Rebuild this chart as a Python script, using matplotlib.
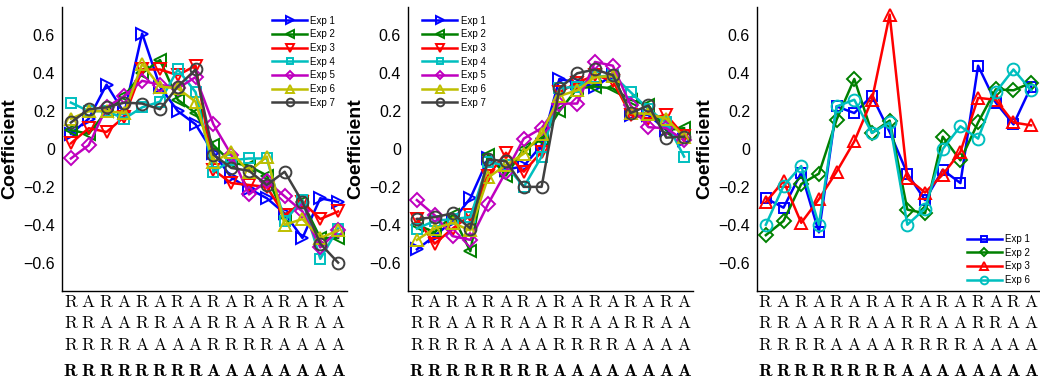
"""
Regression coefficients per condition for three experiment groups.
"""

import matplotlib
matplotlib.use("Agg")
import matplotlib.pyplot as plt
import matplotlib.transforms as mtransforms

plt.rcParams["font.family"] = ["Liberation Sans", "DejaVu Sans"]
plt.rcParams["mathtext.fontset"] = "cm"

# --- condition labels (4 rows under each of the 16 positions) ---
row1 = list("RARARARARARARARA")
row2 = list("RRAARRAARRAARRAA")
row3 = list("RRRRAAAARRRRAAAA")
row4 = list("RRRRRRRRAAAAAAAA")
positions = list(range(1, 17))

# --- panel 1 ---
p1_exp1 = [0.08, 0.16, 0.34, 0.19, 0.61, 0.33, 0.20, 0.13, -0.02, -0.15, -0.21, -0.26, -0.34, -0.47, -0.26, -0.28]
p1_exp2 = [0.10, 0.08, 0.20, 0.28, 0.40, 0.47, 0.26, 0.19, 0.02, -0.07, -0.09, -0.14, -0.36, -0.28, -0.47, -0.47]
p1_exp3 = [0.03, 0.11, 0.09, 0.17, 0.42, 0.42, 0.39, 0.44, -0.11, -0.18, -0.19, -0.20, -0.35, -0.28, -0.37, -0.33]
p1_exp4 = [0.245, 0.20, 0.20, 0.16, 0.22, 0.25, 0.42, 0.30, -0.12, -0.06, -0.05, -0.05, -0.38, -0.27, -0.58, -0.42]
p1_exp5 = [-0.05, 0.02, 0.22, 0.28, 0.36, 0.34, 0.32, 0.38, 0.13, -0.03, -0.24, -0.17, -0.25, -0.33, -0.52, -0.43]
p1_exp6 = [0.16, 0.20, 0.20, 0.19, 0.45, 0.33, 0.32, 0.25, -0.07, -0.015, -0.12, -0.04, -0.40, -0.37, -0.47, -0.43]
p1_exp7 = [0.14, 0.21, 0.22, 0.245, 0.24, 0.21, 0.33, 0.42, -0.03, -0.10, -0.115, -0.19, -0.12, -0.28, -0.50, -0.60]

# --- panel 2 ---
p2_exp1 = [-0.53, -0.46, -0.38, -0.26, -0.05, -0.11, -0.09, 0.02, 0.37, 0.35, 0.33, 0.39, 0.18, 0.18, 0.10, 0.05]
p2_exp2 = [-0.40, -0.44, -0.35, -0.54, -0.03, -0.14, 0.00, 0.05, 0.20, 0.32, 0.33, 0.32, 0.26, 0.23, 0.10, 0.11]
p2_exp3 = [-0.37, -0.50, -0.42, -0.35, -0.14, -0.02, -0.12, -0.015, 0.30, 0.35, 0.39, 0.36, 0.18, 0.16, 0.18, 0.07]
p2_exp4 = [-0.42, -0.38, -0.37, -0.36, -0.07, -0.085, -0.20, -0.04, 0.32, 0.33, 0.38, 0.39, 0.30, 0.21, 0.14, -0.04]
p2_exp5 = [-0.27, -0.35, -0.46, -0.48, -0.29, -0.12, 0.055, 0.11, 0.24, 0.24, 0.46, 0.44, 0.23, 0.115, 0.11, 0.045]
p2_exp6 = [-0.48, -0.42, -0.39, -0.43, -0.15, -0.085, -0.025, 0.08, 0.28, 0.31, 0.38, 0.385, 0.19, 0.185, 0.16, 0.065]
p2_exp7 = [-0.37, -0.36, -0.34, -0.42, -0.055, -0.065, -0.20, -0.20, 0.32, 0.40, 0.42, 0.39, 0.19, 0.23, 0.06, 0.065]

# --- panel 3 ---
p3_exp1 = [-0.26, -0.31, -0.125, -0.44, 0.225, 0.19, 0.28, 0.09, -0.13, -0.27, -0.11, -0.18, 0.44, 0.245, 0.13, 0.33]
p3_exp2 = [-0.455, -0.38, -0.185, -0.13, 0.155, 0.37, 0.085, 0.15, -0.32, -0.34, 0.065, -0.06, 0.14, 0.315, 0.31, 0.35]
p3_exp3 = [-0.28, -0.17, -0.39, -0.265, -0.12, 0.04, 0.26, 0.71, -0.155, -0.23, -0.135, -0.015, 0.27, 0.26, 0.14, 0.125]
p3_exp6 = [-0.40, -0.195, -0.09, -0.40, 0.225, 0.26, 0.085, 0.14, -0.40, -0.315, 0.00, 0.12, 0.055, 0.30, 0.42, 0.31]

BLUE, GREEN, RED = "#0000ff", "#008000", "#ff0000"
CYAN, MAGENTA, YELLOW, GRAY = "#00bfbf", "#bf00bf", "#bfbf00", "#404040"
MSIZE = {">": 9, "<": 9, "v": 9, "^": 9, "o": 8.5, "s": 7, "D": 7}

panels = [
    {
        "series": [
            ("Exp 1", p1_exp1, BLUE, ">"),
            ("Exp 2", p1_exp2, GREEN, "<"),
            ("Exp 3", p1_exp3, RED, "v"),
            ("Exp 4", p1_exp4, CYAN, "s"),
            ("Exp 5", p1_exp5, MAGENTA, "D"),
            ("Exp 6", p1_exp6, YELLOW, "^"),
            ("Exp 7", p1_exp7, GRAY, "o"),
        ],
        "legend": dict(loc="upper right", bbox_to_anchor=(0.98, 0.99)),
        "rect": [62 / 1040, 93 / 384, 285 / 1040, 284 / 384],
    },
    {
        "series": [
            ("Exp 1", p2_exp1, BLUE, ">"),
            ("Exp 2", p2_exp2, GREEN, "<"),
            ("Exp 3", p2_exp3, RED, "v"),
            ("Exp 4", p2_exp4, CYAN, "s"),
            ("Exp 5", p2_exp5, MAGENTA, "D"),
            ("Exp 6", p2_exp6, YELLOW, "^"),
            ("Exp 7", p2_exp7, GRAY, "o"),
        ],
        "legend": dict(loc="upper left", bbox_to_anchor=(0.03, 0.99)),
        "rect": [408 / 1040, 93 / 384, 285 / 1040, 284 / 384],
    },
    {
        "series": [
            ("Exp 1", p3_exp1, BLUE, "s"),
            ("Exp 2", p3_exp2, GREEN, "D"),
            ("Exp 3", p3_exp3, RED, "^"),
            ("Exp 6", p3_exp6, CYAN, "o"),
        ],
        "legend": dict(loc="lower right", bbox_to_anchor=(0.985, 0.0)),
        "rect": [757 / 1040, 93 / 384, 283 / 1040, 284 / 384],
    },
]

fig = plt.figure(figsize=(10.4, 3.84), dpi=100)

for panel in panels:
    ax = fig.add_axes(panel["rect"])
    for label, values, color, marker in panel["series"]:
        ax.plot(
            positions,
            values,
            color=color,
            marker=marker,
            markersize=MSIZE[marker],
            markerfacecolor="none",
            markeredgewidth=1.4,
            linewidth=1.8,
            label=label,
        )

    ax.set_xlim(0.5, 16.5)
    ax.set_ylim(-0.75, 0.75)
    ax.set_yticks([-0.6, -0.4, -0.2, 0, 0.2, 0.4, 0.6])
    ax.set_yticklabels(["\u22120.6", "\u22120.4", "\u22120.2", "0", "0.2", "0.4", "0.6"])
    ax.set_xticks([])
    ax.tick_params(axis="y", length=0, pad=5, labelsize=11.5)
    for side in ("top", "right"):
        ax.spines[side].set_visible(False)
    for side in ("left", "bottom"):
        ax.spines[side].set_linewidth(1.0)

    ax.set_ylabel("Coefficient", fontsize=14, fontweight="bold")
    ax.yaxis.set_label_coords(-0.155, 0.5)

    # --- condition labels below the axis ---
    base = ax.get_xaxis_transform()
    rows = [(row1, 11, r"\mathrm"), (row2, 32, r"\mathrm"), (row3, 54, r"\mathrm"), (row4, 81, r"\mathbf")]
    for letters, offset, style in rows:
        trans = mtransforms.offset_copy(base, fig=fig, y=-offset, units="dots")
        for x, ch in zip(positions, letters):
            ax.text(x, 0, "$%s{%s}$" % (style, ch), transform=trans,
                    ha="center", va="center", fontsize=13 if style == r"\mathbf" else 12.5)

    ax.legend(
        frameon=False,
        fontsize=7,
        handlelength=3.6,
        handletextpad=0.35,
        labelspacing=0.38,
        markerscale=0.65,
        borderaxespad=0.2,
        **panel["legend"],
    )

fig.savefig("out.png", dpi=100)
